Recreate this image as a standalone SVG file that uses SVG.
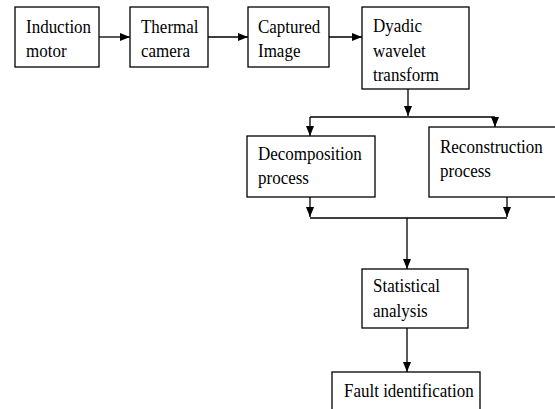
<svg xmlns="http://www.w3.org/2000/svg" width="555" height="409" viewBox="0 0 555 409">
<style>
.b{fill:#fff;stroke:#000;stroke-width:1.3}
text{font-family:"Liberation Serif","Times New Roman",serif;font-size:17px;fill:#000}
.c line{stroke:#000;stroke-width:1.3;fill:none}
</style>
<defs>
<marker id="ah" markerWidth="10" markerHeight="8" refX="10" refY="4" orient="auto" markerUnits="userSpaceOnUse">
<path d="M0,0 L10,4 L0,8 Z" fill="#000"/>
</marker>
</defs>
<rect x="0" y="0" width="555" height="409" fill="#fff"/>
<g class="c">
<line x1="99" y1="37" x2="130" y2="37" marker-end="url(#ah)"/>
<line x1="208" y1="37" x2="248" y2="37" marker-end="url(#ah)"/>
<line x1="329" y1="37" x2="362" y2="37" marker-end="url(#ah)"/>
<line x1="408" y1="89" x2="408" y2="116" marker-end="url(#ah)"/>
<line x1="310" y1="117" x2="495" y2="117"/>
<line x1="310" y1="117" x2="310" y2="136" marker-end="url(#ah)"/>
<line x1="495" y1="117" x2="495" y2="127" marker-end="url(#ah)"/>
<line x1="310" y1="197" x2="310" y2="217" marker-end="url(#ah)"/>
<line x1="507" y1="197" x2="507" y2="217" marker-end="url(#ah)"/>
<line x1="310" y1="218" x2="507" y2="218"/>
<line x1="407" y1="218" x2="407" y2="269" marker-end="url(#ah)"/>
<line x1="407" y1="328" x2="407" y2="372" marker-end="url(#ah)"/>
</g>
<g id="induction-motor"><rect class="b" x="15" y="7" width="84" height="60"/><text transform="translate(26,33) scale(1,1.15)">Induction</text><text transform="translate(26,57) scale(1,1.15)">motor</text></g>
<g id="thermal-camera"><rect class="b" x="130" y="7" width="78" height="60"/><text transform="translate(141,33) scale(1,1.15)">Thermal</text><text transform="translate(141,57) scale(1,1.15)">camera</text></g>
<g id="captured-image"><rect class="b" x="248" y="7" width="81" height="60"/><text transform="translate(258,33) scale(1,1.15)">Captured</text><text transform="translate(258,57) scale(1,1.15)">Image</text></g>
<g id="dyadic"><rect class="b" x="362" y="7" width="107" height="82"/><text transform="translate(373,32) scale(1,1.15)">Dyadic</text><text transform="translate(373,57) scale(1,1.15)">wavelet</text><text transform="translate(373,81) scale(1,1.15)">transform</text></g>
<g id="decomposition"><rect class="b" x="247" y="136" width="128" height="61"/><text transform="translate(258,160) scale(1,1.15)">Decomposition</text><text transform="translate(258,184) scale(1,1.15)">process</text></g>
<g id="reconstruction"><rect class="b" x="429" y="127" width="128" height="70"/><text transform="translate(440,153) scale(1,1.15)">Reconstruction</text><text transform="translate(440,177) scale(1,1.15)">process</text></g>
<g id="statistical"><rect class="b" x="362" y="269" width="106" height="59"/><text transform="translate(373,292) scale(1,1.15)">Statistical</text><text transform="translate(373,317) scale(1,1.15)">analysis</text></g>
<g id="fault"><rect class="b" x="332" y="372" width="148" height="50"/><text transform="translate(344,397) scale(1,1.15)">Fault identification</text></g>
</svg>
